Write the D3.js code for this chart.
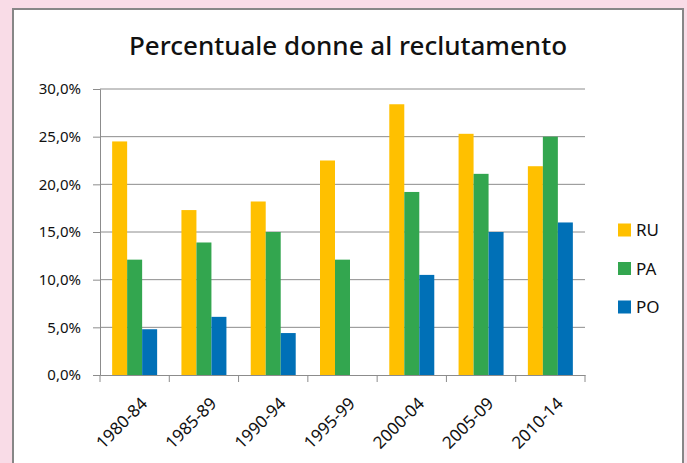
<!DOCTYPE html>
<html>
<head>
<meta charset="utf-8">
<script src="https://cdn.jsdelivr.net/npm/d3@7"></script>
<style>
  body { margin: 0; background: #f9dce7; }
  svg { display: block; }
  text { font-family: "Noto Sans", sans-serif; fill: #111; }
</style>
</head>
<body>
<svg id="chart" width="687" height="463"></svg>
<script>
// data
const periods = ['1980-84', '1985-89', '1990-94', '1995-99', '2000-04', '2005-09', '2010-14'];
const series = ['RU', 'PA', 'PO'];
const ru = [24.5, 17.3, 18.2, 22.5, 28.4, 25.3, 21.9];
const pa = [12.1, 13.9, 15.0, 12.1, 19.2, 21.1, 25.0];
const po = [4.8, 6.1, 4.4, null, 10.5, 15.0, 16.0];
const yTicks = [0, 5, 10, 15, 20, 25, 30];
const colors = ['#ffc000', '#33a64f', '#0070b7'];

const values = { RU: ru, PA: pa, PO: po };

var svg = d3.select('#chart');

// white chart box
svg.append('rect')
    .attr('x', 13).attr('y', 9)
    .attr('width', 670).attr('height', 470)
    .attr('fill', '#fff')
    .attr('stroke', '#878787')
    .attr('stroke-width', 2);

svg.append('text')
    .attr('x', 348).attr('y', 55)
    .attr('text-anchor', 'middle')
    .style('font-size', '26px')
    .style('font-weight', 500)
    .text('Percentuale donne al reclutamento');

var x0 = d3.scaleBand().domain(periods).range([100, 585]);
var x1 = d3.scaleBand().domain(series).range([0, x0.bandwidth()]).paddingOuter(0.81);
var y = d3.scaleLinear().domain([0, 30]).range([375, 89]);
var color = d3.scaleOrdinal().domain(series).range(colors);

// gridlines
svg.append('g')
  .selectAll('line')
  .data(yTicks.slice(1))
  .enter().append('line')
    .attr('x1', 100).attr('x2', 585)
    .attr('y1', function(d) { return y(d); })
    .attr('y2', function(d) { return y(d); })
    .attr('stroke', '#8c8c8c')
    .attr('stroke-width', 1);

// y axis
var yAxis = svg.append('g')
    .attr('transform', 'translate(100,0)')
    .call(d3.axisLeft(y).tickValues(yTicks).tickSize(7).tickPadding(12)
      .tickFormat(function(d) { return d.toFixed(1).replace('.', ',') + '%'; }));
yAxis.select('.domain').attr('stroke', '#8c8c8c');
yAxis.selectAll('.tick line').attr('stroke', '#8c8c8c');
yAxis.selectAll('text').style('font-size', '15px').attr('fill', '#111');

// bars
var groups = svg.append('g')
  .selectAll('g')
  .data(periods)
  .enter().append('g')
    .attr('transform', function(d) { return 'translate(' + x0(d) + ',0)'; });

groups.selectAll('rect')
  .data(function(p, i) {
    return series.map(function(s) { return { key: s, value: values[s][i] }; })
      .filter(function(d) { return d.value != null; });
  })
  .enter().append('rect')
    .attr('x', function(d) { return x1(d.key); })
    .attr('width', x1.bandwidth())
    .attr('y', function(d) { return y(d.value); })
    .attr('height', function(d) { return y(0) - y(d.value); })
    .attr('fill', function(d) { return color(d.key); });

// x axis
var xAxis = svg.append('g')
    .attr('transform', 'translate(0,375)')
    .call(d3.axisBottom(x0).tickSize(0).tickFormat(''));
xAxis.select('.domain').attr('stroke', '#8c8c8c');
xAxis.selectAll('.tick').remove();

svg.append('g')
  .selectAll('line')
  .data(d3.range(periods.length + 1))
  .enter().append('line')
    .attr('x1', function(i) { return 100 + i * x0.step(); })
    .attr('x2', function(i) { return 100 + i * x0.step(); })
    .attr('y1', 375).attr('y2', 382)
    .attr('stroke', '#8c8c8c');

svg.append('g')
  .selectAll('text')
  .data(periods)
  .enter().append('text')
    .attr('transform', function(d) {
      return 'translate(' + (x0(d) + x0.bandwidth() / 2 + 5) + ',396) rotate(-45)';
    })
    .attr('text-anchor', 'end')
    .attr('dy', '0.72em')
    .style('font-size', '17px')
    .text(function(d) { return d; });

// legend
var legend = svg.append('g')
  .selectAll('g')
  .data(series)
  .enter().append('g')
    .attr('transform', function(d, i) { return 'translate(618,' + (230 + i * 38.5) + ')'; });

legend.append('rect')
    .attr('x', 0).attr('y', -6.5)
    .attr('width', 13).attr('height', 13)
    .attr('fill', function(d) { return color(d); });

legend.append('text')
    .attr('x', 18).attr('dy', '0.36em')
    .style('font-size', '17px')
    .text(function(d) { return d; });
</script>
</body>
</html>
